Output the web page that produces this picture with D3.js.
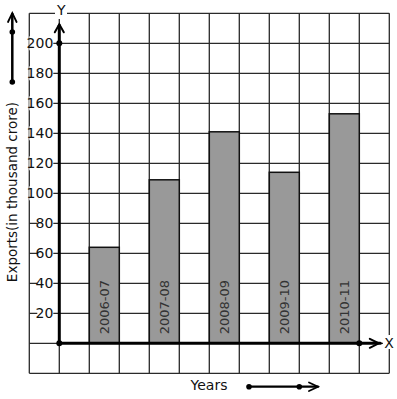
<!DOCTYPE html>
<html>
<head>
<meta charset="utf-8">
<script src="https://cdn.jsdelivr.net/npm/d3@7"></script>
<style>
  html, body { margin: 0; padding: 0; background: #fff; }
  svg { display: block; font-family: "DejaVu Sans", sans-serif; }
</style>
</head>
<body>
<div id="chart"></div>
<script>
const years = ['2006-07', '2007-08', '2008-09', '2009-10', '2010-11'];
const exports = [64, 109, 141, 114, 153];
const yTicks = [20, 40, 60, 80, 100, 120, 140, 160, 180, 200];

const W = 397, H = 399;

const svg = d3.select('#chart').append('svg')
  .attr('width', W)
  .attr('height', H);

// grid units: one column = one step, one row = 20 crore
const x = d3.scaleLinear().domain([-1, 11]).range([29.3, 389.3]);
const y = d3.scaleLinear().domain([-20, 220]).range([373.3, 13.3]);

const grid = svg.append('g')
  .attr('stroke', '#2a2a2a')
  .attr('stroke-width', 1.3)
  .attr('fill', 'none');

grid.selectAll('line.v')
  .data(d3.range(-1, 12))
  .enter().append('line')
  .attr('x1', d => x(d)).attr('x2', d => x(d))
  .attr('y1', y(220)).attr('y2', y(-20));

grid.selectAll('line.h')
  .data(d3.range(-20, 221, 20))
  .enter().append('line')
  .attr('x1', x(-1)).attr('x2', x(11))
  .attr('y1', d => y(d)).attr('y2', d => y(d));

// bars
const barCol = i => 1 + 2 * i;
svg.append('g').selectAll('rect')
  .data(exports)
  .enter().append('rect')
  .attr('x', (d, i) => x(barCol(i)))
  .attr('width', x(1) - x(0))
  .attr('y', d => y(d))
  .attr('height', d => y(0) - y(d))
  .attr('fill', '#999999')
  .attr('stroke', '#111')
  .attr('stroke-width', 1.5);

// bar labels
svg.append('g').selectAll('text')
  .data(years)
  .enter().append('text')
  .attr('transform', (d, i) => 'translate(' + (x(barCol(i) + 0.5) + 4.5) + ',' + (y(0) - 9) + ') rotate(-90)')
  .attr('font-size', 13)
  .attr('fill', '#333')
  .text(d => d);

// y tick labels with white backgrounds
const tl = svg.append('g').selectAll('g')
  .data(yTicks)
  .enter().append('g')
  .attr('transform', d => 'translate(' + (x(0) - 5) + ',' + y(d) + ')');
tl.append('rect')
  .attr('x', -25).attr('y', -7)
  .attr('width', 23).attr('height', 14)
  .attr('fill', '#fff')
  .attr('width', function (d) { return String(d).length * 8; })
  .attr('x', function (d) { return -String(d).length * 8 - 1; });
tl.append('text')
  .attr('x', -1)
  .attr('dy', '0.36em')
  .attr('text-anchor', 'end')
  .attr('font-size', 14)
  .attr('fill', '#111')
  .text(d => d);

// axes
const axes = svg.append('g')
  .attr('stroke', '#000')
  .attr('fill', 'none')
  .attr('stroke-linecap', 'round');

axes.append('line')
  .attr('x1', x(0)).attr('y1', y(0))
  .attr('x2', x(0)).attr('y2', y(212))
  .attr('stroke-width', 3);
axes.append('path')
  .attr('d', 'M' + (x(0) - 4.5) + ',' + (y(208) + 1) + ' L' + x(0) + ',' + (y(212) - 1) + ' L' + (x(0) + 4.5) + ',' + (y(208) + 1))
  .attr('stroke-width', 2);

axes.append('line')
  .attr('x1', x(0)).attr('y1', y(0))
  .attr('x2', x(10.7)).attr('y2', y(0))
  .attr('stroke-width', 3);
axes.append('path')
  .attr('d', 'M' + (x(10.35)) + ',' + (y(0) - 4.5) + ' L' + (x(10.65)) + ',' + y(0) + ' L' + (x(10.35)) + ',' + (y(0) + 4.5))
  .attr('stroke-width', 2);

svg.append('g').selectAll('circle')
  .data([[0, 0], [0, 200], [10, 0]])
  .enter().append('circle')
  .attr('cx', d => x(d[0]))
  .attr('cy', d => y(d[1]))
  .attr('r', 3)
  .attr('fill', '#000');

// axis letters
svg.append('rect').attr('x', 55).attr('y', 5).attr('width', 12).attr('height', 14).attr('fill', '#fff');
svg.append('text').attr('x', x(0) + 2).attr('y', 15).attr('text-anchor', 'middle')
  .attr('font-size', 14).attr('fill', '#111').text('Y');
svg.append('rect').attr('x', 383).attr('y', 335).attr('width', 11).attr('height', 14).attr('fill', '#fff');
svg.append('text').attr('x', 389).attr('y', 347.5).attr('text-anchor', 'middle')
  .attr('font-size', 14).attr('fill', '#111').text('X');

// axis titles
svg.append('text')
  .attr('transform', 'translate(17,' + 192 + ') rotate(-90)')
  .attr('text-anchor', 'middle')
  .attr('font-size', 13.5)
  .attr('fill', '#111')
  .text('Exports(in thousand crore)');
svg.append('text')
  .attr('x', 209).attr('y', 390)
  .attr('text-anchor', 'middle')
  .attr('font-size', 14)
  .attr('fill', '#111')
  .text('Years');

// direction arrows
const dir = svg.append('g').attr('stroke', '#000').attr('fill', 'none').attr('stroke-linecap', 'round');
dir.append('line').attr('x1', 12.3).attr('y1', 82).attr('x2', 12.3).attr('y2', 14).attr('stroke-width', 2.5);
dir.append('path').attr('d', 'M8,22 L12.3,13 L16.6,22').attr('stroke-width', 1.8);
dir.append('line').attr('x1', 249).attr('y1', 386.7).attr('x2', 318).attr('y2', 386.7).attr('stroke-width', 2.2);
dir.append('path').attr('d', 'M309,382.5 L318,386.7 L309,391').attr('stroke-width', 1.8);
svg.append('g').selectAll('circle')
  .data([[12.3, 32], [12.3, 82], [249, 386.7], [299.3, 386.7]])
  .enter().append('circle')
  .attr('cx', d => d[0]).attr('cy', d => d[1])
  .attr('r', 2.8).attr('fill', '#000');
</script>
</body>
</html>
